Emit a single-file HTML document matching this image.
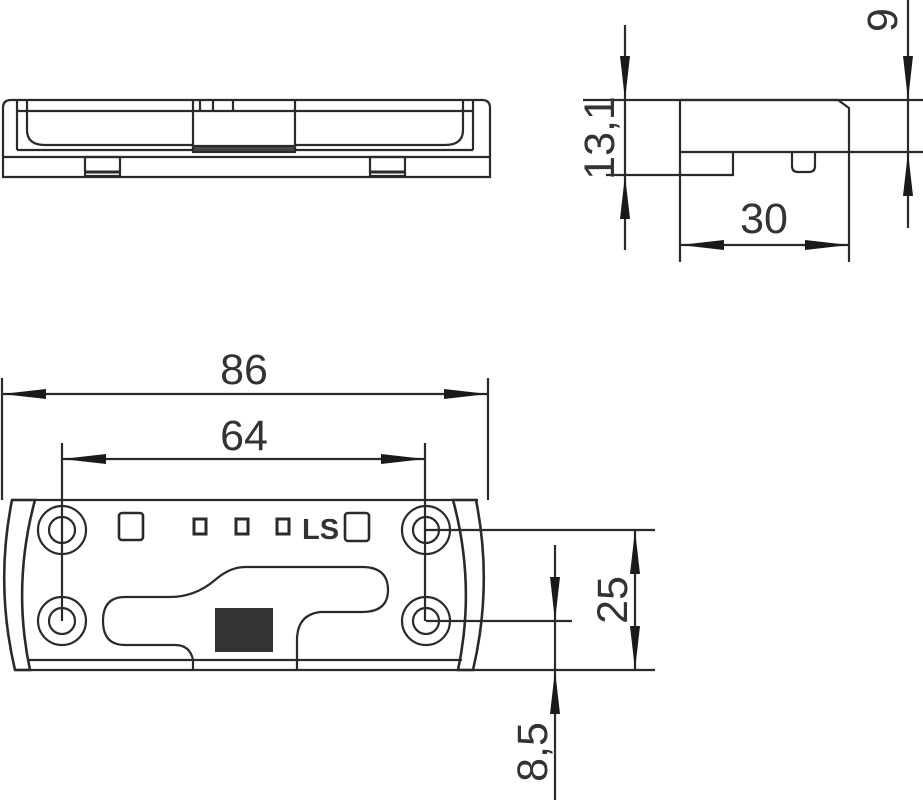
<!DOCTYPE html>
<html><head><meta charset="utf-8"><style>
html,body{margin:0;padding:0;background:#fff;}
svg{display:block}
text{font-family:"Liberation Sans",sans-serif;fill:#333;font-size:43px}
</style></head><body>
<svg width="923" height="800" viewBox="0 0 923 800" xmlns="http://www.w3.org/2000/svg">
<defs>
<marker id="a" viewBox="0 0 44 14" refX="44" refY="7" markerWidth="44" markerHeight="14" markerUnits="userSpaceOnUse" orient="auto"><path d="M0,2 L44,7 L0,12 Z" fill="#1a1a1a"/></marker>
</defs>
<g stroke="#2a2a2a" stroke-width="2.2" fill="none">
<!-- side view -->
<path d="M3,177 L3,108 Q3,100 11,100 L482,100 Q490,100 490,108 L490,177 Z"/>
<line x1="3" y1="157" x2="490" y2="157"/>
<line x1="17" y1="111" x2="473" y2="111"/>
<line x1="17" y1="100" x2="17" y2="150"/>
<line x1="473" y1="100" x2="473" y2="150"/>
<path d="M27,100 L27,130 Q27,145 45,145 L193,145"/>
<path d="M463,100 L463,130 Q463,145 445,145 L295,145"/>
<line x1="17" y1="150" x2="473" y2="150"/>
<line x1="193" y1="100" x2="193" y2="150"/>
<line x1="295" y1="100" x2="295" y2="150"/>
<line x1="200" y1="100" x2="200" y2="111"/>
<line x1="213" y1="100" x2="213" y2="111"/>
<line x1="233" y1="100" x2="233" y2="111"/>
<rect x="193" y="146" width="102" height="6" fill="#444"/>
<rect x="85" y="157" width="35" height="19"/>
<rect x="370" y="157" width="35" height="19"/>
<line x1="86" y1="172" x2="119" y2="172" stroke-width="3"/>
<line x1="371" y1="172" x2="404" y2="172" stroke-width="3"/>
<!-- right view -->
<line x1="583" y1="100" x2="923" y2="100"/>
<path d="M680,100 L838,100 L849,108 L849,152"/>
<line x1="680" y1="100" x2="680" y2="262"/>
<line x1="849" y1="152" x2="849" y2="262"/>
<line x1="680" y1="152" x2="923" y2="152"/>
<path d="M733,152 L733,175 L606,175"/>
<path d="M792,152 L792,166 Q792,172 798,172 L809,172 Q815,172 815,166 L815,152"/>
<line x1="625" y1="25" x2="625" y2="100" marker-end="url(#a)"/>
<line x1="625" y1="250" x2="625" y2="175" marker-end="url(#a)"/>
<line x1="625" y1="100" x2="625" y2="175"/>
<line x1="908" y1="0" x2="908" y2="100" marker-end="url(#a)"/>
<line x1="908" y1="228" x2="908" y2="152" marker-end="url(#a)"/>
<line x1="908" y1="100" x2="908" y2="152"/>
<line x1="764" y1="245" x2="680" y2="245" marker-end="url(#a)"/>
<line x1="764" y1="245" x2="849" y2="245" marker-end="url(#a)"/>
<!-- top dims -->
<line x1="2" y1="378" x2="2" y2="500"/>
<line x1="488" y1="378" x2="488" y2="500"/>
<line x1="244" y1="394" x2="2" y2="394" marker-end="url(#a)"/>
<line x1="244" y1="394" x2="488" y2="394" marker-end="url(#a)"/>
<line x1="62" y1="443" x2="62" y2="621"/>
<line x1="425" y1="443" x2="425" y2="621"/>
<line x1="244" y1="459" x2="62" y2="459" marker-end="url(#a)"/>
<line x1="244" y1="459" x2="425" y2="459" marker-end="url(#a)"/>
<!-- plate -->
<line x1="12" y1="500" x2="478" y2="500"/>
<line x1="28" y1="660" x2="462" y2="660"/>
<line x1="15" y1="670" x2="570" y2="670"/>
<path d="M12,500 L35,500 Q12,585 30,670 L15,670 Q-5,585 12,500 Z" stroke-width="2.6"/>
<path d="M476,500 L453,500 Q476,585 458,670 L473,670 Q493,585 476,500 Z" stroke-width="2.6"/>
<circle cx="62" cy="530" r="24"/><circle cx="62" cy="530" r="13"/>
<circle cx="62" cy="621" r="24"/><circle cx="62" cy="621" r="13"/>
<circle cx="426" cy="530" r="24"/><circle cx="426" cy="530" r="13"/>
<circle cx="426" cy="621" r="24"/><circle cx="426" cy="621" r="13"/>
<rect x="119" y="513" width="24" height="27" rx="3" stroke-width="2.6"/>
<rect x="345" y="513" width="24" height="28" rx="3" stroke-width="2.6"/>
<rect x="194" y="519" width="12" height="15" stroke-width="3"/>
<rect x="236" y="519" width="12" height="15" stroke-width="3"/>
<rect x="277" y="519" width="12" height="15" stroke-width="3"/>
<path d="M193,670 L193,660 Q190,645 175,645 L125,645 Q103,645 103,621 Q103,597 125,597 L170,597 Q195,597 215,580 Q230,567 245,567 L362,567 Q388,567 388,590 Q388,612 362,612 L320,612 Q297,615 297,640 L297,670"/>
<line x1="426" y1="530" x2="655" y2="530"/>
<line x1="426" y1="621" x2="572" y2="621"/>
<line x1="655" y1="670" x2="570" y2="670"/>
<line x1="635" y1="600" x2="635" y2="530" marker-end="url(#a)"/>
<line x1="635" y1="600" x2="635" y2="670" marker-end="url(#a)"/>
<line x1="555" y1="545" x2="555" y2="621" marker-end="url(#a)"/>
<line x1="555" y1="800" x2="555" y2="670" marker-end="url(#a)"/>
<line x1="555" y1="621" x2="555" y2="670"/>
</g>
<rect x="215" y="608" width="58" height="44" fill="#333"/>
<text x="302" y="539" style="font-size:29px;font-weight:bold" fill="#333">LS</text>
<text x="244" y="384" text-anchor="middle">86</text>
<text x="244" y="450" text-anchor="middle">64</text>
<text x="764" y="233" text-anchor="middle">30</text>
<text transform="translate(614,138) rotate(-90)" text-anchor="middle">13,1</text>
<text transform="translate(897,20) rotate(-90)" text-anchor="middle">9</text>
<text transform="translate(627,600) rotate(-90)" text-anchor="middle">25</text>
<text transform="translate(547,752) rotate(-90)" text-anchor="middle">8,5</text>
</svg>
</body></html>
